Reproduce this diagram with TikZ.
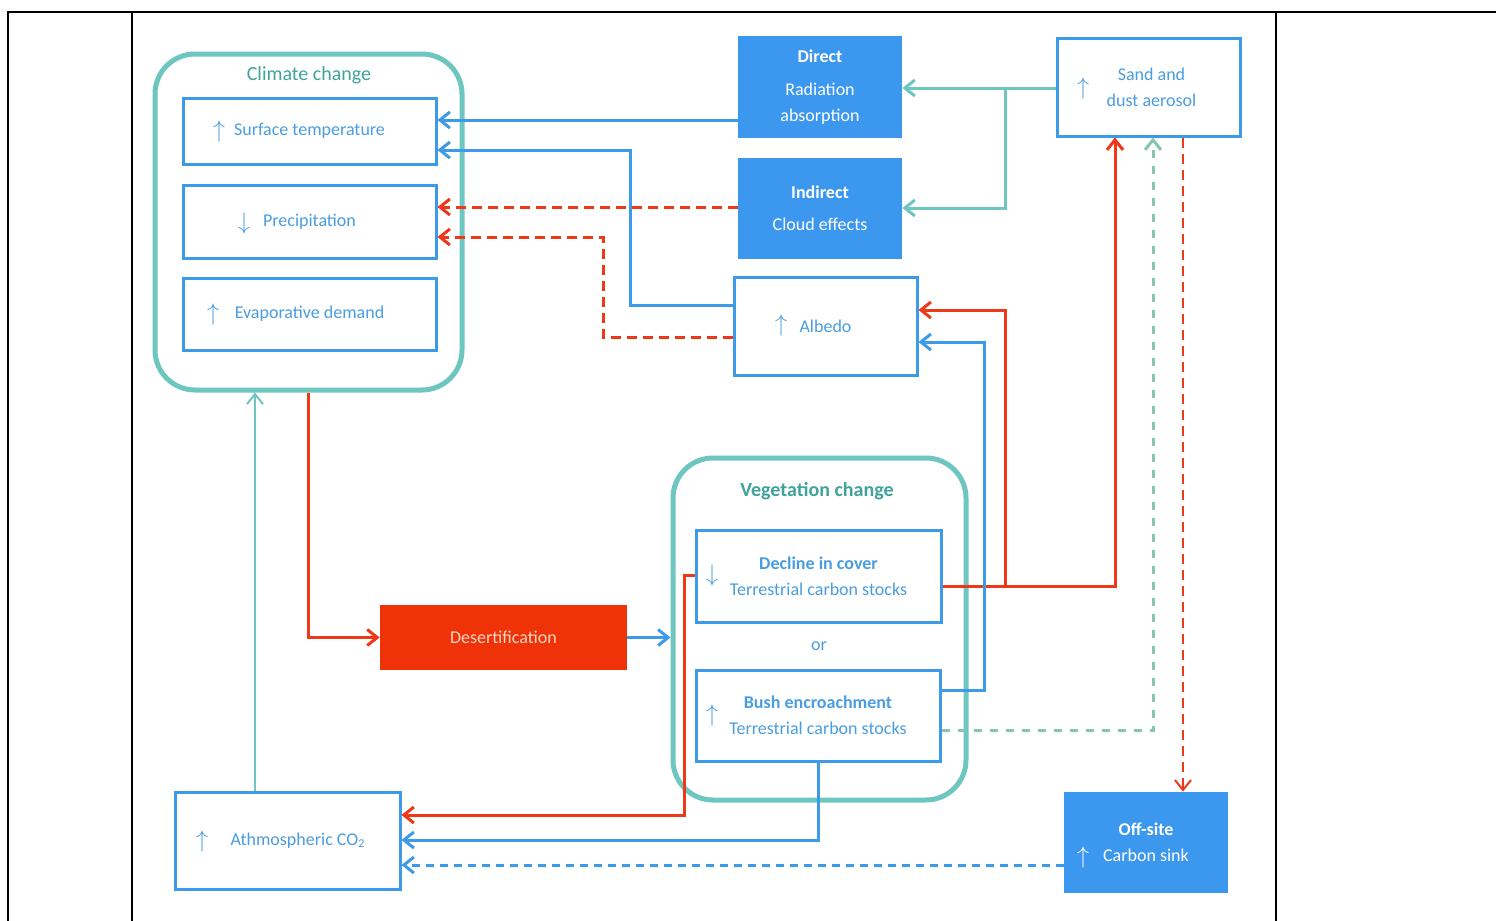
\documentclass[tikz,border=0pt]{standalone}
\usepackage{fontspec}
\setmainfont{Carlito}
\usetikzlibrary{arrows.meta}
\definecolor{blueline}{HTML}{3D9AE8}
\definecolor{bluefill}{HTML}{3C97EE}
\definecolor{tealline}{HTML}{6EC6C0}
\definecolor{redline}{HTML}{EE3818}
\definecolor{redfill}{HTML}{F03208}
\definecolor{titleteal}{HTML}{3FA39C}
\definecolor{textblue}{HTML}{4A9DE0}
\definecolor{tealdash}{HTML}{88C4B4}
\definecolor{peach}{HTML}{FBD6C0}
\tikzset{
  box/.style={draw=blueline, line width=1.5pt, fill=white, text=textblue, align=center, inner sep=0pt, font=\fontsize{9}{13}\selectfont},
  fbox/.style={draw=none, fill=bluefill, text=white, align=center, inner sep=0pt, font=\fontsize{9}{13}\selectfont},
  roundbox/.style={draw=tealline, line width=2.5pt, rounded corners=20pt, inner sep=0pt},
  titletext/.style={text=titleteal, font=\fontsize{10}{12}\selectfont, inner sep=0pt},
  glyph/.style={text=textblue, font=\fontsize{12}{12}\selectfont, inner sep=0pt},
  conn/.style={line width=1.5pt, -{Straight Barb[length=5pt,width=8pt]}},
  blueconn/.style={conn, draw=blueline},
  redconn/.style={conn, draw=redline},
  tealconn/.style={conn, draw=tealline},
  reddash/.style={conn, draw=redline, dash pattern=on 5pt off 3pt},
  tealdashed/.style={conn, draw=tealdash, dash pattern=on 4pt off 4pt},
  bluedash/.style={conn, draw=blueline, dash pattern=on 4pt off 3pt},
  frame/.style={draw=black, line width=1pt}
}
\begin{document}
\begin{tikzpicture}[x=0.5pt,y=-0.5pt]
\useasboundingbox (0,0) rectangle (1496,921);
\fill[white] (0,0) rectangle (1496,921);
% table frame
\draw[frame] (8,921) -- (8,12) -- (1496,12);
\draw[frame] (132,12) -- (132,921);
\draw[frame] (1276,12) -- (1276,921);

% climate change group
\node[roundbox, minimum width=153.5pt, minimum height=168pt] (climate) at (308.5,222) {};
\node[titletext] (climtitle) at (309,75) {Climate change};
\node[box, minimum width=126.5pt, minimum height=33pt] (surf) at (309.5,131) {Surface temperature};
\node[glyph] (surfup) at (219,131) {$\uparrow$};
\node[box, minimum width=126.5pt, minimum height=36.5pt] (precip) at (309.5,221.5) {Precipitation};
\node[glyph] (precdown) at (244,223) {$\downarrow$};
\node[box, minimum width=126.5pt, minimum height=36pt] (evap) at (309.5,314) {Evaporative demand};
\node[glyph] (evapup) at (213,314) {$\uparrow$};

% aerosol effects
\node[fbox, minimum width=82pt, minimum height=51pt] (direct) at (820,87) {\textbf{Direct}\\[3.5pt]Radiation\\absorption};
\node[fbox, minimum width=82pt, minimum height=50.5pt] (indirect) at (820,208.5) {\textbf{Indirect}\\[3pt]Cloud effects};
\node[box, minimum width=91.5pt, minimum height=49pt] (sand) at (1148.5,87) {\hspace*{3pt}Sand and\\\hspace*{3pt}dust aerosol};
\node[glyph] (sandup) at (1083,88) {$\uparrow$};
\node[box, minimum width=91.5pt, minimum height=49pt] (albedo) at (825.5,326) {Albedo};
\node[glyph] (albup) at (781,325) {$\uparrow$};

% vegetation change group
\node[roundbox, minimum width=146.5pt, minimum height=171pt] (veg) at (819.5,629) {};
\node[titletext, font=\fontsize{10}{12}\selectfont\bfseries] (vegtitle) at (817,491) {Vegetation change};
\node[box, minimum width=122.5pt, minimum height=46pt] (decline) at (818.5,576) {\textbf{Decline in cover}\\Terrestrial carbon stocks};
\node[glyph] (decdown) at (712,575) {$\downarrow$};
\node[text=textblue, font=\fontsize{9}{11}\selectfont, inner sep=0pt] (or) at (819,646) {or};
\node[box, minimum width=122pt, minimum height=45.5pt] (bush) at (818,715.5) {\textbf{Bush encroachment}\\Terrestrial carbon stocks};
\node[glyph] (bushup) at (712,715) {$\uparrow$};

% desertification
\node[fbox, fill=redfill, text=peach, minimum width=123.5pt, minimum height=32.5pt] (desert) at (503.5,637.5) {Desertification};

% atmospheric CO2
\node[box, minimum width=112.5pt, minimum height=48.5pt] (co2) at (287.5,840.5) {};
\node[text=textblue, font=\fontsize{9}{11}\selectfont, inner sep=0pt] (co2text) at (298,841) {Athmospheric CO\textsubscript{2}};
\node[glyph] (co2up) at (202,841) {$\uparrow$};

% off-site carbon sink
\node[fbox, minimum width=82pt, minimum height=50.5pt] (offsite) at (1146,842.5) {\textbf{Off-site}\\Carbon sink};
\node[glyph, text=white] (offup) at (1083,857) {$\uparrow$};

% connectors
\draw[blueconn] (direct.west |- 0,120) -- (surf.east |- 0,120);
\draw[blueconn] (albedo.west |- 0,305) -| (630,150) -- (surf.east |- 0,150);
\draw[reddash] (indirect.west |- 0,207) -- (precip.east |- 0,207);
\draw[reddash] (albedo.west |- 0,337) -| (603,237) -- (precip.east |- 0,237);
\coordinate (tj) at (1005,88);
\draw[tealconn] (sand.west |- 0,88) -- (direct.east |- 0,88);
\draw[tealconn] (tj) |- (indirect.east |- 0,208);
\draw[redconn] (climate.south) |- (desert.west);
\draw[blueconn] (desert.east) -- (veg.west |- desert.east);
\coordinate (rj) at (1005,586);
\draw[redconn] (decline.east |- 0,586) -| (sand.south -| 1115,0);
\draw[redconn] (rj) |- (albedo.east |- 0,310);
\draw[blueconn] (bush.east |- 0,690) -| (984,342) -- (albedo.east |- 0,342);
\draw[tealdashed] (bush.east |- 0,730) -| (sand.south -| 1153,0);
\draw[reddash, line width=1pt] (sand.south -| 1183,0) -- (offsite.north -| 1183,0);
\draw[redconn] (decline.west |- 0,575) -| (684,815) -- (co2.east |- 0,815);
\draw[blueconn] (bush.south) |- (co2.east |- 0,840);
\draw[bluedash] (offsite.west |- 0,865) -- (co2.east |- 0,865);
\draw[tealconn, line width=1pt] (co2.north -| 255,0) -- (climate.south -| 255,0);
\end{tikzpicture}
\end{document}
